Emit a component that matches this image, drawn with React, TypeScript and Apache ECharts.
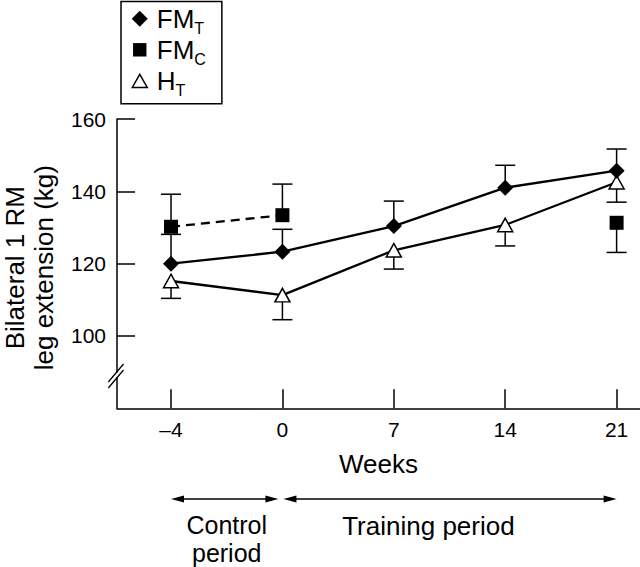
import React, { useEffect, useRef } from 'react';
import * as echarts from 'echarts';

// ---- data ----
const weekLabels = ['–4', '0', '7', '14', '21'];
const weekIndex = [0, 1, 2, 3, 4];
const yTicks = [100, 120, 140, 160];

const fmT = [120.0, 123.3, 130.4, 141.0, 145.7];
const fmTBarEnd = [128.1, 129.5, 137.3, 147.2, 151.7];

const fmC = [130.2, 133.4, null, null, 131.3];
const fmCBarEnd = [139.2, 142.0, null, null, 123.1];

const hT = [115.2, 111.3, 123.7, 130.7, 142.5];
const hTBarEnd = [110.4, 104.5, 118.5, 124.9, 137.0];

const seriesNames = ['FM_T', 'FM_C', 'H_T'];

const FONT = '"Liberation Sans", Arial, Helvetica, sans-serif';
const BLACK = '#000';

function pairs(vals: (number | null)[]) {
  return weekIndex.map((x, i) => [x, vals[i] === null ? null : vals[i]]);
}

function barData(mean: (number | null)[], end: (number | null)[]) {
  const out: number[][] = [];
  weekIndex.forEach((x, i) => {
    const m = mean[i];
    const e = end[i];
    if (m !== null && e !== null) out.push([x, m as number, e as number]);
  });
  return out;
}

function renderBar(params: any, api: any) {
  const x = api.value(0);
  const p0 = api.coord([x, api.value(1)]);
  const p1 = api.coord([x, api.value(2)]);
  const st = { stroke: BLACK, lineWidth: 1.5 };
  return {
    type: 'group',
    children: [
      { type: 'line', shape: { x1: p0[0], y1: p0[1], x2: p1[0], y2: p1[1] }, style: st },
      { type: 'line', shape: { x1: p1[0] - 10, y1: p1[1], x2: p1[0] + 10, y2: p1[1] }, style: st },
    ],
  };
}

function arrow(x1: number, x2: number, y: number) {
  const L = 13;
  const H = 3.5;
  return [
    { type: 'line', shape: { x1: x1 + 4, y1: y, x2: x2 - 4, y2: y }, style: { stroke: BLACK, lineWidth: 1.5 }, silent: true },
    { type: 'polygon', shape: { points: [[x1, y], [x1 + L, y - H], [x1 + L, y + H]] }, style: { fill: BLACK }, silent: true },
    { type: 'polygon', shape: { points: [[x2, y], [x2 - L, y - H], [x2 - L, y + H]] }, style: { fill: BLACK }, silent: true },
  ];
}

export default function App() {
  const ref = useRef<HTMLDivElement>(null);

  useEffect(() => {
    if (!ref.current) return;
    const chart = echarts.init(ref.current, null, { renderer: 'svg' });

    const legendFormatter = (name: string) => {
      const [m, s] = name.split('_');
      return `{m|${m}}{s|${s}}`;
    };

    const option: any = {
      animation: false,
      backgroundColor: '#fff',
      textStyle: { fontFamily: FONT, color: BLACK },
      grid: { left: 117, right: 0, top: 119, bottom: 158.7, containLabel: false, outerBoundsMode: 'none' },
      legend: {
        show: true,
        orient: 'vertical',
        left: 121,
        top: 1.5,
        padding: [4.3, 16, 5, 10],
        itemGap: 0,
        itemWidth: 16,
        itemHeight: 16,
        borderColor: BLACK,
        borderWidth: 1.5,
        borderRadius: 0,
        backgroundColor: '#fff',
        selectedMode: false,
        formatter: legendFormatter,
        textStyle: {
          color: BLACK,
          fontFamily: FONT,
          rich: {
            m: { fontSize: 26, lineHeight: 36, fontFamily: FONT, color: BLACK, padding: [0, 0, 0, 4], verticalAlign: 'middle' },
            s: { fontSize: 16, lineHeight: 16, fontFamily: FONT, color: BLACK, verticalAlign: 'bottom' },
          },
        },
        data: [
          { name: seriesNames[0], icon: 'diamond', itemStyle: { color: BLACK, borderWidth: 0 } },
          { name: seriesNames[1], icon: 'path://M0,0M16,16M1.3,1.3L14.7,1.3L14.7,14.7L1.3,14.7Z', itemStyle: { color: BLACK, borderWidth: 0 } },
          { name: seriesNames[2], icon: 'path://M0,0M16,16M0.5,14.7L8,1.5L15.5,14.7Z', itemStyle: { color: '#fff', borderColor: BLACK, borderWidth: 1.5 } },
        ],
      },
      xAxis: {
        type: 'value',
        min: -0.485,
        max: 4.21,
        axisLine: { show: true, onZero: false, lineStyle: { color: BLACK, width: 1.5 } },
        axisTick: { show: true, inside: true, length: 19, customValues: weekIndex, lineStyle: { color: BLACK, width: 1.5 } },
        axisLabel: {
          show: true,
          customValues: weekIndex,
          formatter: (v: number) => weekLabels[Math.round(v)] ?? '',
          margin: 11,
          fontSize: 21,
          color: BLACK,
          fontFamily: FONT,
        },
        splitLine: { show: false },
        name: 'Weeks',
        nameLocation: 'middle',
        nameGap: 43,
        nameTextStyle: { fontSize: 26, color: BLACK, fontFamily: FONT },
      },
      yAxis: {
        type: 'value',
        min: 80,
        max: 160,
        axisLine: { show: true, onZero: false, lineStyle: { color: BLACK, width: 1.5 } },
        axisTick: { show: true, inside: true, length: 18, customValues: yTicks, lineStyle: { color: BLACK, width: 1.5 } },
        axisLabel: { show: true, customValues: yTicks, margin: 11, fontSize: 21, color: BLACK, fontFamily: FONT },
        splitLine: { show: false },
        name: 'Bilateral 1 RM\nleg extension (kg)',
        nameLocation: 'middle',
        nameRotate: 90,
        nameGap: 58,
        nameTextStyle: { fontSize: 26, lineHeight: 29.5, color: BLACK, fontFamily: FONT, padding: [0, 8, 0, 0] },
      },
      series: [
        {
          type: 'custom', name: 'err_H_T', z: 1, renderItem: renderBar,
          data: barData(hT, hTBarEnd), encode: { x: 0, y: [1, 2] }, silent: true,
        },
        {
          type: 'custom', name: 'err_FM_C', z: 1, renderItem: renderBar,
          data: barData(fmC, fmCBarEnd), encode: { x: 0, y: [1, 2] }, silent: true,
        },
        {
          type: 'custom', name: 'err_FM_T', z: 1, renderItem: renderBar,
          data: barData(fmT, fmTBarEnd), encode: { x: 0, y: [1, 2] }, silent: true,
        },
        {
          type: 'line', name: seriesNames[2], z: 3, data: pairs(hT),
          symbol: 'triangle', symbolSize: [15, 13.5], showAllSymbol: true,
          lineStyle: { color: BLACK, width: 2.3 },
          itemStyle: { color: '#fff', borderColor: BLACK, borderWidth: 1.5 },
        },
        {
          type: 'line', name: seriesNames[1], z: 4, data: pairs(fmC), connectNulls: false,
          symbol: 'rect', symbolSize: 14, showAllSymbol: true,
          lineStyle: { color: BLACK, width: 2.3, type: [9, 6] },
          itemStyle: { color: BLACK, borderWidth: 0 },
        },
        {
          type: 'line', name: seriesNames[0], z: 5, data: pairs(fmT),
          symbol: 'diamond', symbolSize: 16, showAllSymbol: true,
          lineStyle: { color: BLACK, width: 2.3 },
          itemStyle: { color: BLACK, borderWidth: 0 },
        },
      ],
    };

    chart.setOption(option);

    const px = (v: number) => chart.convertToPixel({ xAxisIndex: 0 }, v) as number;
    const xa = px(weekIndex[0]);
    const xb = px(weekIndex[1]);
    const xe = px(weekIndex[4]);
    const arrowY = 499;

    const graphics: any[] = [
      // axis break on y axis
      { type: 'rect', shape: { x: 112, y: 372.6, width: 10, height: 4.6 }, style: { fill: '#fff' }, z: 100, silent: true },
      { type: 'line', shape: { x1: 108.3, y1: 382, x2: 123.5, y2: 364 }, style: { stroke: BLACK, lineWidth: 1.3 }, z: 101, silent: true },
      { type: 'line', shape: { x1: 108.3, y1: 388, x2: 123.5, y2: 370 }, style: { stroke: BLACK, lineWidth: 1.3 }, z: 101, silent: true },
      ...arrow(xa, xb - 4, arrowY),
      ...arrow(xb + 1, xe, arrowY),
      {
        type: 'text', x: (xa + xb) / 2, y: 510.5, silent: true,
        style: { text: 'Control\nperiod', textAlign: 'center', textVerticalAlign: 'top', fontSize: 25, lineHeight: 28.2, fontFamily: FONT, fill: BLACK },
      },
      {
        type: 'text', x: xb + 146, y: 513, silent: true,
        style: { text: 'Training period', textAlign: 'center', textVerticalAlign: 'top', fontSize: 26, lineHeight: 26.5, fontFamily: FONT, fill: BLACK },
      },
    ];

    chart.setOption({ graphic: graphics });

    return () => chart.dispose();
  }, []);

  return (
    <div
      ref={ref}
      style={{ position: 'fixed', left: 0, top: 0, width: 640, height: 567, background: '#fff' }}
    />
  );
}
